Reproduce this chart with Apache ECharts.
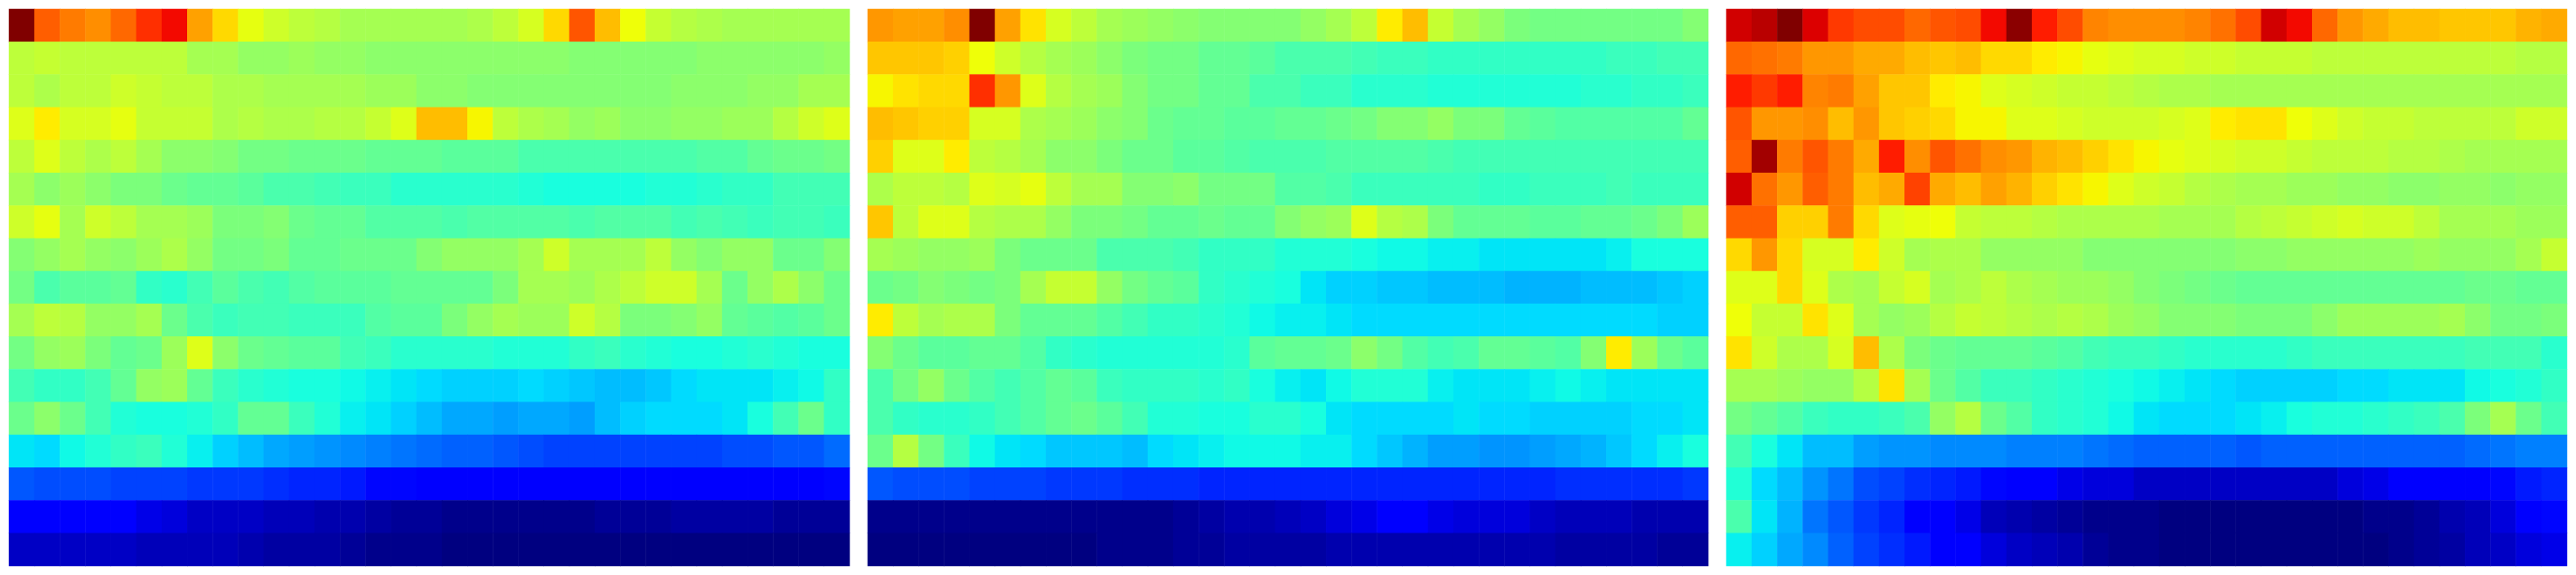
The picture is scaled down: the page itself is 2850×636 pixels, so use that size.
<!DOCTYPE html>
<html><head><meta charset="utf-8">
<style>html,body{margin:0;padding:0;background:#fff}#c{width:2850px;height:636px}</style>
<script src="https://cdn.jsdelivr.net/npm/echarts@6/dist/echarts.min.js"></script>
</head><body><div id="c"></div>
<script>
const panelA = [
[100,81,78,76,80,86,90,74,68,63,60,58,57,55,55,55,55,55,56,58,61,68,82,71,64,59,57,56,55,55,55,55,55],
[58,59,58,58,58,58,58,55,55,53,53,54,53,53,52,52,52,52,52,52,52,52,51,51,51,51,51,52,52,52,52,52,53],
[58,56,58,58,60,59,58,58,56,56,55,55,55,55,54,54,52,52,51,51,51,51,51,51,51,51,52,52,52,53,53,55,55],
[62,66,61,61,63,59,59,59,56,57,56,56,57,57,59,62,71,71,65,58,56,55,53,54,52,52,53,53,54,54,57,60,62],
[58,62,58,56,58,55,52,52,51,49,49,48,48,48,47,47,47,46,46,46,44,44,44,44,44,44,44,45,45,47,48,48,49],
[55,52,54,52,50,50,48,47,47,46,44,44,43,42,42,40,40,40,40,40,39,38,38,38,38,39,39,40,41,41,43,43,43],
[60,63,55,60,58,55,55,54,50,50,51,48,47,47,45,45,45,44,45,45,45,45,44,45,45,45,43,44,43,42,43,43,42],
[51,53,55,53,52,54,56,53,49,49,50,47,47,48,48,48,51,53,53,53,55,60,55,55,55,58,53,51,53,53,48,48,51],
[49,44,46,46,47,41,40,43,46,44,43,45,46,46,46,47,47,47,47,50,55,55,54,56,58,60,60,55,48,53,56,52,48],
[55,58,57,53,53,55,48,44,42,43,43,42,42,42,45,46,46,50,53,55,54,54,60,57,50,50,51,53,47,46,45,46,48],
[49,53,54,50,47,48,54,62,52,48,47,46,46,43,42,40,40,40,40,39,39,39,41,42,40,39,38,38,39,40,39,38,38],
[43,41,41,43,47,53,54,47,42,40,39,38,38,37,36,35,34,33,33,33,34,33,32,31,31,32,34,35,35,35,36,37,41],
[48,52,48,43,39,38,38,39,41,47,47,42,39,36,35,33,31,29,29,28,29,29,28,31,33,34,34,34,35,38,43,48,41],
[35,34,37,39,41,42,39,36,33,31,29,28,27,26,25,24,23,22,22,21,20,19,19,19,19,19,19,19,20,20,21,21,23],
[21,20,20,20,19,19,19,18,18,18,17,16,16,15,13,13,11,11,11,11,11,11,11,11,11,11,11,11,11,11,11,11,13],
[11,11,11,11,11,9,8,6,6,6,5,5,4,4,3,2,2,1,1,1,1,1,1,2,2,2,3,3,3,3,2,2,2],
[6,6,6,6,6,5,5,5,5,4,3,3,3,2,1,1,1,0,0,0,0,0,0,0,0,0,0,0,0,0,0,0,0]
];
const panelB = [
[75,74,74,76,100,74,67,61,58,55,54,53,52,51,51,51,51,53,55,58,66,71,59,55,53,50,49,49,49,49,49,49,51],
[70,70,70,69,64,60,57,55,54,52,50,49,49,47,47,46,44,44,44,43,42,42,41,41,41,41,41,41,41,42,42,43,43],
[65,67,68,68,86,75,62,57,55,54,51,49,49,47,47,44,44,42,42,40,40,40,39,39,39,39,39,39,40,40,41,41,42],
[71,70,69,69,61,61,56,55,54,52,51,48,47,47,46,46,47,47,48,49,51,51,53,50,50,47,46,45,45,45,45,45,47],
[69,62,62,66,58,57,55,52,52,50,48,48,46,46,45,44,44,44,45,45,45,45,44,43,43,43,43,43,43,43,43,43,43],
[56,58,58,57,62,61,63,58,55,55,51,51,52,49,49,49,45,45,44,42,42,42,42,42,41,41,42,42,42,43,42,42,42],
[70,58,62,62,57,56,56,53,50,50,49,47,47,48,47,47,51,53,54,62,57,56,50,47,47,47,46,46,47,47,48,50,54],
[55,54,53,53,54,50,48,48,48,44,44,44,43,41,41,41,39,39,39,38,37,37,36,36,35,35,35,35,35,36,38,38,38],
[48,49,51,50,49,50,55,59,59,53,49,47,46,41,40,39,38,35,33,33,32,32,31,31,31,30,30,30,31,31,31,32,33],
[66,58,55,56,56,50,47,47,47,45,43,41,41,40,39,37,36,36,35,34,34,34,34,34,34,34,34,34,34,34,34,33,33],
[51,48,46,46,47,47,45,41,40,39,39,39,39,39,40,46,47,47,48,52,49,45,43,44,47,47,46,45,51,66,54,48,46],
[44,49,53,48,45,43,45,47,46,42,41,41,41,40,41,38,36,35,37,39,39,39,36,35,35,35,36,37,36,35,35,35,35],
[44,41,40,40,41,43,45,47,48,46,43,39,39,38,38,40,40,38,35,34,34,34,34,35,34,34,33,33,33,33,34,34,35],
[48,57,49,42,37,35,34,32,32,32,31,34,35,36,37,37,37,36,36,34,32,30,28,28,27,27,28,29,30,32,34,36,38],
[21,20,20,20,19,19,19,18,18,18,17,17,17,16,16,16,16,16,16,16,16,16,16,16,16,16,16,17,17,17,17,17,18],
[1,1,1,1,1,1,1,1,1,1,1,1,2,3,4,4,5,6,8,9,11,11,9,8,8,8,6,5,5,5,4,4,4],
[0,0,0,0,0,0,0,0,0,1,1,1,2,2,3,3,3,3,4,4,4,4,4,4,4,4,4,3,3,3,3,2,2]
];
const panelC = [
[93,95,100,92,85,83,83,80,82,83,90,99,88,83,77,76,76,76,77,79,83,93,90,80,75,73,71,71,70,70,70,72,73],
[80,79,78,75,75,73,73,71,70,71,68,68,66,65,63,62,61,61,60,60,59,59,59,58,58,58,58,58,58,58,58,57,57],
[88,85,88,77,78,74,70,70,66,65,62,61,60,59,59,58,57,56,56,55,55,55,55,55,55,55,55,55,55,55,55,55,55],
[82,75,75,76,71,75,70,69,68,65,65,62,62,61,60,60,60,61,62,66,67,67,64,62,60,59,59,58,58,58,58,60,60],
[81,97,78,82,78,73,88,76,82,79,76,75,72,71,69,67,65,63,62,61,60,60,59,58,58,58,57,57,56,55,55,55,55],
[93,79,75,81,78,71,73,84,73,71,74,72,69,67,65,62,60,59,57,56,55,55,54,54,53,53,52,52,53,53,52,53,53],
[81,81,69,69,78,68,62,63,64,59,58,58,57,56,56,56,56,55,55,55,57,58,59,60,61,60,60,58,55,55,55,54,54],
[68,75,68,61,61,66,60,55,56,56,53,53,53,53,51,51,51,51,51,51,52,52,53,53,53,53,53,54,53,53,53,55,59],
[62,62,68,62,56,55,59,61,55,56,58,56,55,54,54,53,51,50,49,48,47,47,47,47,47,47,47,47,47,48,48,47,47],
[64,59,59,67,62,55,53,54,57,59,58,57,56,57,56,54,53,51,51,51,50,50,50,52,54,54,54,54,55,52,49,49,50],
[67,60,56,56,61,71,56,50,48,47,47,47,46,45,43,42,42,41,40,40,40,40,41,42,42,42,42,42,42,43,43,43,40],
[55,55,54,53,53,57,67,55,48,45,42,42,41,40,39,38,37,36,35,34,33,33,33,33,34,34,35,35,35,37,38,39,41],
[49,47,45,42,41,41,42,44,53,57,48,45,41,40,39,37,35,34,34,34,35,36,38,39,39,40,41,42,44,50,55,48,43],
[43,38,35,31,31,28,27,27,26,26,26,25,25,25,24,23,22,22,22,22,21,22,22,22,22,22,22,22,22,23,24,25,25],
[39,34,31,27,24,20,19,17,16,15,13,11,11,9,8,8,6,6,6,6,6,6,6,6,8,9,11,11,11,11,13,15,16],
[44,35,30,24,21,18,16,11,11,9,5,4,3,2,1,1,1,0,0,0,0,0,0,0,0,1,1,2,4,5,8,11,13],
[36,33,29,26,22,19,17,15,11,11,8,6,5,4,2,1,1,0,0,0,0,0,0,0,0,0,1,2,3,5,6,8,9]
];
const panels = [panelA, panelB, panelC];
const gridLefts = [10, 960, 1910];

function jet(t){
  const seg=(p)=>{for(let i=1;i<p.length;i++){if(t<=p[i][0]){const a=p[i-1],b=p[i];return a[1]+(b[1]-a[1])*(t-a[0])/(b[0]-a[0]);}}return p[p.length-1][1];};
  const r=seg([[0,0],[.35,0],[.66,1],[.89,1],[1,.5]]);
  const g=seg([[0,0],[.125,0],[.375,1],[.64,1],[.91,0],[1,0]]);
  const b=seg([[0,.5],[.11,1],[.34,1],[.65,0],[1,0]]);
  return `rgb(${Math.round(r*255)},${Math.round(g*255)},${Math.round(b*255)})`;
}
const jetColors=[];for(let i=0;i<=200;i++)jetColors.push(jet(i/200));

const cols=panelA[0].map((_,i)=>i), rows=panelA.map((_,i)=>i);
const chart=echarts.init(document.getElementById('c'),null,{renderer:'canvas'});
chart.setOption({
  animation:false,backgroundColor:'#fff',
  visualMap:{show:false,min:0,max:100,seriesIndex:[0,1,2],inRange:{color:jetColors}},
  grid:gridLefts.map(l=>({left:l,top:10,width:930,height:616})),
  xAxis:panels.map((_,i)=>({type:'category',gridIndex:i,data:cols,show:false})),
  yAxis:panels.map((_,i)=>({type:'category',gridIndex:i,data:rows,inverse:true,show:false})),
  series:panels.map((p,i)=>({
    type:'heatmap',xAxisIndex:i,yAxisIndex:i,progressive:0,
    itemStyle:{borderWidth:0},emphasis:{disabled:true},
    data:p.flatMap((row,y)=>row.map((v,x)=>[x,y,v]))
  }))
});
</script></body></html>
